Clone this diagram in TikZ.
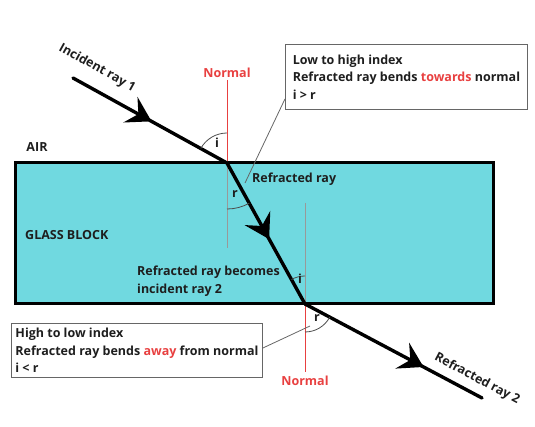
\documentclass[tikz,border=0pt]{standalone}
\usepackage{fontspec}
\setmainfont{Open Sans}
\usetikzlibrary{arrows.meta,decorations.markings}
\definecolor{glass}{RGB}{112,217,224}
\definecolor{normred}{RGB}{232,64,64}
\definecolor{ink}{RGB}{30,30,30}

\begin{document}
\begin{tikzpicture}[x=1pt,y=-1pt,
  lbl/.style={font=\bfseries\fontsize{12.5}{17.5}\selectfont,text=ink,inner sep=0pt},
  ray/.style={line width=3.4pt,line cap=round,
    decoration={markings,mark=at position #1 with {\arrow{Stealth[length=24pt,width=29pt,inset=9pt]}}},
    postaction={decorate}},
  callout/.style={lbl,draw=black!60,line width=0.9pt,align=left,inner xsep=2pt,inner ysep=0pt}]

\useasboundingbox (0,0) rectangle (535,427);

% glass block
\filldraw[fill=glass,draw=black,line width=3pt] (15,163) rectangle (493,304);

\coordinate (src) at (73,78);
\coordinate (entry) at (227,163);
\coordinate (exit) at (305,304);
\coordinate (dst) at (482,398);

% normals
\draw[normred,line width=0.9pt] (227,80)--(entry);
\draw[black!40,line width=0.9pt] (entry)--(227,248);
\draw[black!40,line width=0.9pt] (305,203)--(exit);
\draw[normred,line width=0.9pt] (exit)--(305,372);

% rays
\draw[ray=0.51] (src)--(entry);
\draw[ray=0.54] (entry)--(exit);
\draw[ray=0.67] (exit)--(dst);

% angles
\draw[black!70,line width=0.8pt] (entry) ++(209:30) arc[start angle=209,end angle=270,radius=30];
\draw[black!70,line width=0.8pt] (entry) ++(90:46) arc[start angle=90,end angle=61,radius=46];
\draw[black!70,line width=0.8pt] (exit) ++(241:28) arc[start angle=241,end angle=270,radius=28];
\draw[black!70,line width=0.8pt] (exit) ++(90:28) arc[start angle=90,end angle=28,radius=28];
\node[lbl] (i1) at (217,143) {i};
\node[lbl] (r1) at (235,194) {r};
\node[lbl] (i2) at (300,279) {i};
\node[lbl] (r2) at (317,318) {r};

% labels
\node[lbl,text=normred] (n1) at (227,73) {Normal};
\node[lbl,text=normred] (n2) at (305,381) {Normal};
\node[lbl] (air) at (37,147) {AIR};
\node[lbl,anchor=west] (block) at (25,235) {GLASS BLOCK};
\node[lbl,anchor=west] (refr) at (252,179) {Refracted ray};
\node[lbl,anchor=west,align=left] (becomes) at (137,281) {Refracted ray becomes\\incident ray 2};
\node[lbl,rotate=-29] (inc) at (97,68) {Incident ray 1};
\node[lbl,rotate=-28] (out) at (477,379) {Refracted ray 2};

% call-outs
\node[callout,anchor=north west,minimum width=242pt,minimum height=65pt] (low) at (285,44)
  {Low to high index\\Refracted ray bends \textcolor{normred}{towards} normal\\i > r};
\node[callout,anchor=north west,minimum width=251pt,minimum height=54pt] (high) at (11,323)
  {High to low index\\Refracted ray bends \textcolor{normred}{away} from normal\\i < r};
\coordinate (rtag1) at (245,183);
\coordinate (rtag2) at (310,326);
\draw[black!60,line width=0.8pt] ([yshift=11pt]low.south west)--(rtag1);
\draw[black!60,line width=0.8pt] ([yshift=-25pt]high.north east)--(rtag2);
\end{tikzpicture}
\end{document}
